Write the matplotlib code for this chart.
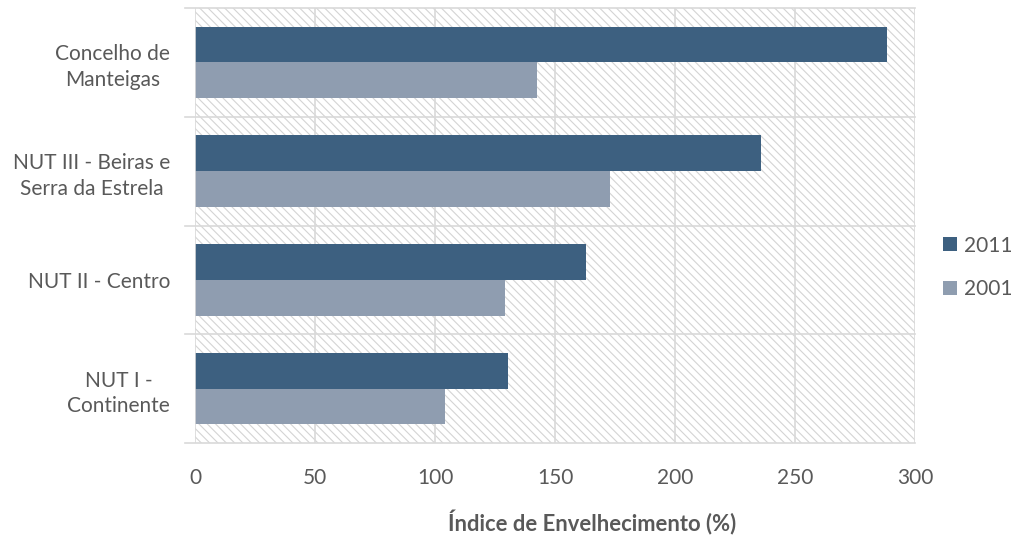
import matplotlib
matplotlib.use("Agg")
import matplotlib.pyplot as plt
import numpy as np
from matplotlib.patches import Rectangle

categories = ["Concelho de\nManteigas", "NUT III - Beiras e\nSerra da Estrela", "NUT II - Centro", "NUT I -\nContinente"]
values_2011 = [288.5, 236, 163, 130.5]
values_2001 = [142.3, 172.8, 129.3, 104.2]
series_labels = ["2011", "2001"]
xticks = [0, 50, 100, 150, 200, 250, 300]

plt.rcParams['font.family'] = ['Lato', 'DejaVu Sans']
plt.rcParams['hatch.linewidth'] = 0.8
plt.rcParams['hatch.color'] = '#D4D4D4'

text_color = '#595959'
c2011 = '#3D6080'
c2001 = '#8F9DB0'

fig = plt.figure(figsize=(10.14, 5.35), dpi=100)
ax = fig.add_axes([0.1923, 0.172, 0.7101, 0.813])

n = len(categories)
y = np.arange(n)[::-1].astype(float)  # top category at top
h = 0.33

# hatched background
ax.add_patch(Rectangle((0, 0), 1, 1, transform=ax.transAxes, facecolor='white',
                       edgecolor='#D4D4D4', hatch='\\\\\\\\', linewidth=0, zorder=0))

ax.barh(y + h / 2, values_2011, height=h, color=c2011, label=series_labels[0], zorder=3)
ax.barh(y - h / 2, values_2001, height=h, color=c2001, label=series_labels[1], zorder=3)

ax.set_xlim(0, 300)
ax.set_ylim(-0.5, n - 0.5)
ax.set_xticks(xticks)
ax.set_xticklabels([str(t) for t in xticks])

ax.set_yticks(y)
ax.set_yticklabels(categories, multialignment='center', linespacing=1.35)

# grid lines
for t in xticks[1:]:
    ax.axvline(t, color='#D9D9D9', lw=1.2, zorder=1)
for b in np.arange(-0.5, n, 1.0):
    ax.plot([-0.014, 1.0], [b, b], color='#D9D9D9', lw=1.2, zorder=1,
            transform=ax.get_yaxis_transform(), clip_on=False)
ax.axvline(0, color='#D9D9D9', lw=1.2, zorder=4)

for s in ax.spines.values():
    s.set_visible(False)
ax.tick_params(axis='both', length=0, labelsize=15, labelcolor=text_color)
ax.tick_params(axis='x', pad=18)
ax.tick_params(axis='y', pad=18)

fig.text(592 / 1014, 1 - 531 / 535, "Índice de Envelhecimento (%)", fontsize=15.8,
         fontweight='bold', color=text_color, ha='center', va='baseline')

leg = fig.legend(loc='center left', bbox_to_anchor=(0.922, 0.5), frameon=False,
                 fontsize=15, labelcolor=text_color, handlelength=0.65, handleheight=0.65,
                 handletextpad=0.35, labelspacing=1.15, borderaxespad=0)

fig.savefig("out.png", dpi=100)
